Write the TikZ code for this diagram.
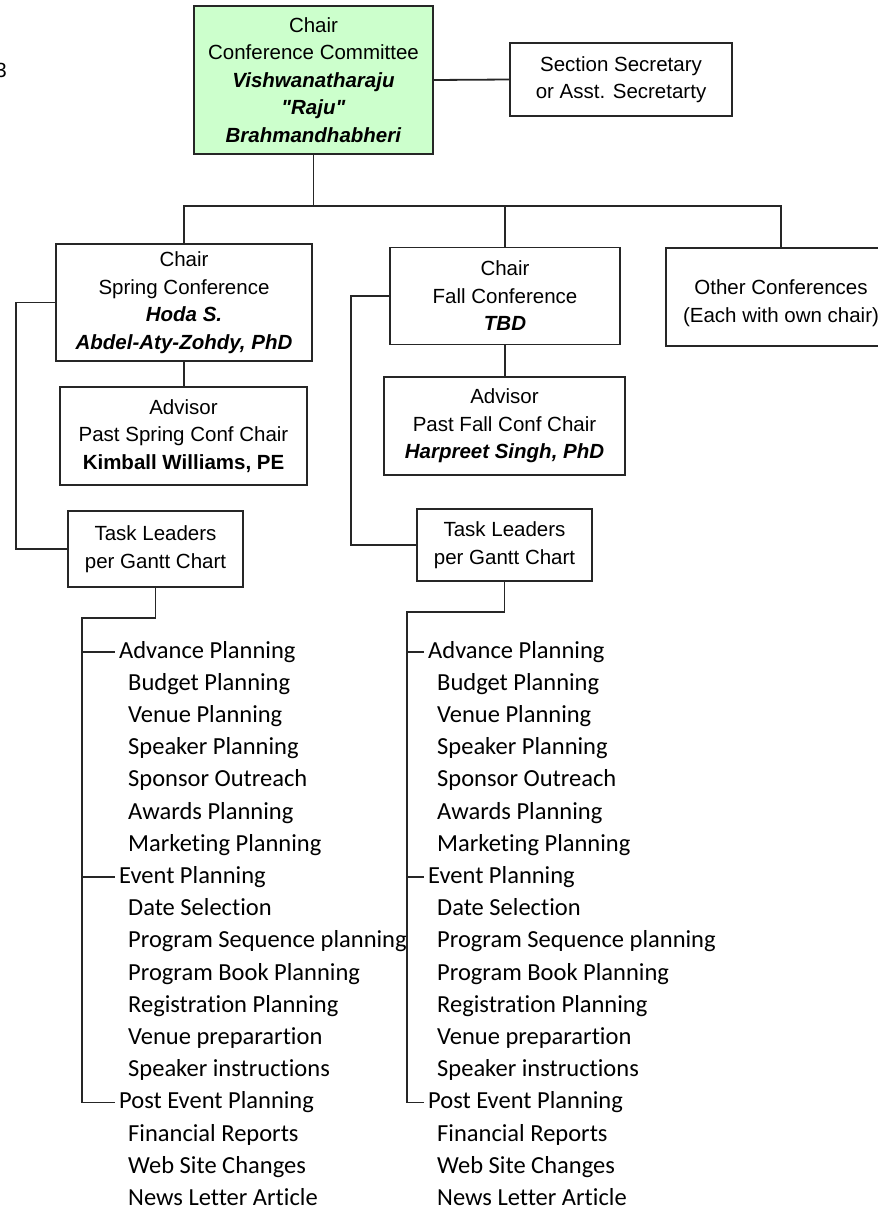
\documentclass[tikz,border=0pt]{standalone}
\usepackage{fontspec}
\setmainfont{Liberation Sans}
\newfontfamily\listfont[Ligatures=NoCommon]{Carlito}
\usetikzlibrary{positioning}
\begin{document}
\begin{tikzpicture}[x=1pt,y=-1pt,
    wire/.style={draw=black!85,line width=1.8pt},
    box/.style={draw=black!85,line width=1.9pt,rectangle,align=center,inner sep=0pt,
      font=\fontsize{20.5}{27.5}\selectfont},
    head/.style={anchor=base west,inner xsep=4pt,inner ysep=0pt,
      font=\listfont\fontsize{24.5}{29}\selectfont},
    item/.style={anchor=base west,inner sep=0pt,
      font=\listfont\fontsize{24.5}{29}\selectfont}]
  \useasboundingbox (0,0) rectangle (878,1208);

  \node[anchor=east,inner sep=0pt,font=\fontsize{20.5}{24}\selectfont] (pg) at (7,70) {3};

  \node[box,fill=green!20,minimum width=239,minimum height=148] (chair) at (313.5,80)
    {Chair\\Conference Committee\\\textbf{\textit{Vishwanatharaju}}\\\textbf{\textit{\textquotedbl Raju\textquotedbl}}\\\textbf{\textit{Brahmandhabheri}}};
  \node[box,minimum width=222,minimum height=73] (secr) at (621,79.5)
    {Section Secretary\\or Asst. Secretarty};
  \node[box,minimum width=256,minimum height=117] (spring) at (184,302.5)
    {Chair\\Spring Conference\\\textbf{\textit{Hoda S.}}\\\textbf{\textit{Abdel-Aty-Zohdy, PhD}}};
  \node[box,minimum width=230,minimum height=97] (fall) at (505,296)
    {Chair\\Fall Conference\\\textbf{\textit{TBD}}};
  \node[box,minimum width=230,minimum height=98] (other) at (781,297)
    {\mbox{}\\Other Conferences\\(Each with own chair)};
  \node[box,minimum width=247,minimum height=98] (sadv) at (183.5,436)
    {Advisor\\Past Spring Conf Chair\\\textbf{Kimball Williams, PE}};
  \node[box,minimum width=241,minimum height=98] (fadv) at (504.5,426)
    {Advisor\\Past Fall Conf Chair\\\textbf{\textit{Harpreet Singh, PhD}}};
  \node[box,minimum width=175,minimum height=76] (stask) at (155.5,549)
    {Task Leaders\\per Gantt Chart};
  \node[box,minimum width=175,minimum height=72] (ftask) at (504.5,545)
    {Task Leaders\\per Gantt Chart};

  \coordinate (bus) at (313.5,206);
  \draw[wire] (chair.east) -- (secr.west);
  \draw[wire] (chair.south) -- (bus);
  \draw[wire] (spring.north) -- (spring.north |- bus) -- (other.north |- bus) -- (other.north);
  \draw[wire] (fall.north) -- (fall.north |- bus);
  \draw[wire] (spring.south) -- (spring.south |- sadv.north);
  \draw[wire] (fall.south) -- (fall.south |- fadv.north);
  \draw[wire] (spring.west) -- ++(-39,0) |- (stask.west);
  \draw[wire] (fall.west) -- ++(-38,0) |- (ftask.west);

  \foreach \col/\x/\b in {s/119/82,f/428/407} {
    \node[head] (\col ap) at (\x-4,658) {Advance Planning};
    \foreach \t [count=\i] in {Budget Planning,Venue Planning,Speaker Planning,
        Sponsor Outreach,Awards Planning,Marketing Planning}
      \node[item] at (\x+9,658+32.2*\i) {\t};
    \node[head] (\col ep) at (\x-4,658+32.2*7) {Event Planning};
    \foreach \t [count=\i] in {Date Selection,Program Sequence planning,
        Program Book Planning,Registration Planning,Venue preparartion,
        Speaker instructions}
      \node[item] at (\x+9,658+32.2*\i+32.2*7) {\t};
    \node[head] (\col pp) at (\x-4,658+32.2*14) {Post Event Planning};
    \foreach \t [count=\i] in {Financial Reports,Web Site Changes,News Letter Article}
      \node[item] at (\x+9,658+32.2*\i+32.2*14) {\t};
    \coordinate (\col bar) at (\b,614);
    \draw[wire] (\col task.south) -- ++(0,30) -| (\col bar |- \col pp.west) -- (\col pp.west);
    \draw[wire] (\col bar |- \col ap.west) -- (\col ap.west);
    \draw[wire] (\col bar |- \col ep.west) -- (\col ep.west);
  }
\end{tikzpicture}
\end{document}
